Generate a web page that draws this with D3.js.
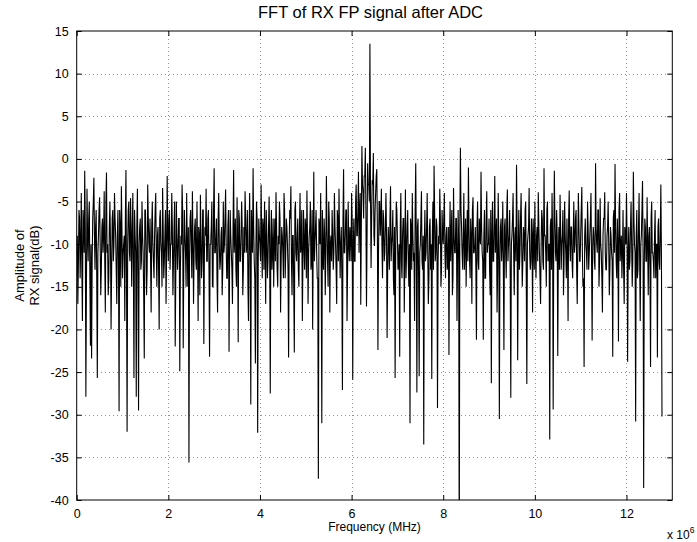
<!DOCTYPE html>
<html><head><meta charset="utf-8">
<script src="https://cdn.jsdelivr.net/npm/d3@7"></script>
<style>
html,body{margin:0;padding:0;background:#fff;}
svg{display:block;font-family:"Liberation Sans",Arial,Helvetica,sans-serif;}
</style></head>
<body><svg id="chart" width="697" height="542"></svg>
<script>
// ---- data ----
const title = "FFT of RX FP signal after ADC";
const xLabel = "Frequency (MHz)";
const yLabelLines = ["Amplitude of", "RX signal(dB)"];
const xTicks = [0, 2e6, 4e6, 6e6, 8e6, 10e6, 12e6];
const xTickLabels = ["0", "2", "4", "6", "8", "10", "12"];
const yTicks = [-40, -35, -30, -25, -20, -15, -10, -5, 0, 5, 10, 15];
const freqStepHz = 12500; // FFT bin spacing
// even-numbered bins (0, 2, 4, ...)
const amplitudeDbEven = [
-11,-17,-6,-14,-4,-19,-8,-1.4,-27.9,-3.5,-12,-5,-21.9,-23.4,-7,-2.2,
-13,-6,-25.7,-9,-4.5,-16,-8,-11,-3.8,-18,-1.6,-10,-14,-5,-20,-7,
-12,-4,-9,-17,-6,-29.6,-8,-3.2,-14,-10,-19,-1.3,-32,-6,-11,-4.6,
-15,-4,-25.7,-9,-27.9,-3.5,-29.5,-8,-13,-5,-11,-23.4,-6,-16,-3,-10,
-7,-18,-5,-12,-9,-4,-15,-8,-20,-6,-11,-3.4,-14,-9,-17,-2,
-12,-6,-10,-4,-16,-8,-22,-5,-13,-7,-24.9,-9,-3,-22.2,-6,-11,
-4,-15,-35.6,-7,-10,-3.8,-17,-8,-12,-5,-19,-9,-4.2,-14,-6,-21.7,
-8,-3.5,-12,-6,-23.2,-10,-5,-15,-1.1,-11,-7,-18,-4,-13,-9,-16,
-5,-10,-3.6,-14,-8,-22.6,-6,-11,-17,-1.3,-9,-13,-4.5,-21.5,-7,-12,
-5,-16,-8,-3.8,-11,-6,-19,-4,-28.8,-9,-1.1,-12,-24,-5,-32.1,-7,
-10,-3,-14,-8,-5,-17,-9,-12,-4.4,-27.5,-6,-11,-15,-7,-3.9,-13,
-9,-5,-18,-8,-11,-4,-14,-7,-10,-23.3,-6,-3.2,-16,-9,-22.7,-5,
-12,-7,-15,-4,-10,-19,-6,-13,-8,-3.7,-17,-9,-5,-12,-20,-1.5,
-10,-6,-14,-37.5,-8,-4,-31,-11,-7,-16,-2,-12,-5,-18,-9,-6,
-13,-4,-10,-17,-7,-3.5,-14,-8,-27.1,-1.2,-11,-6,-19,-5,-12,-9,
-4,-25.9,-7,-12,-3,-9,-1.5,-6,-17.1,1.5,-4,-2,1.3,-17.3,-0.5,-3,
13.5,-12.8,-2.5,0.7,-10.2,-4,-1.2,-22.4,-5,-9,-3.5,-14,-7,-11,-4,-21,
-8,-13,-3.2,-10,-6,-16,-25.7,-5,-9,-12,-23.2,-4,-14,-7,-18,-3.6,
-11,-6,-15,-31,-8,-4,-12,-19,-0.5,-27.4,-7,-25.5,-10,-3.8,-13,-33.5,
-6,-11,-4,-17,-8,-13,-25.8,-5,-0.8,-12,-7,-29.2,-9,-3.5,-15,-6,
-10,-4,-14,-8,-12,-23,-5,-9,-16,-3.4,-11,-7,-19,-6,-48,1.3,
-8,-13,-4,-10,-15,-6,-1,-12,-7,-17,-4.5,-11,-8,-21.2,-5,-13,
-9,-1.5,-11,-21.2,-6,-14,-3.8,-10,-7,-16,-26.3,-5,-12,-2,-9,-18,
-4,-30.5,-8,-12,-5,-22.4,-7,-14,-3.6,-10,-6,-28,-9,-4,-16,-8,
-0.7,-23.6,-6,-11,-4,-15,-8,-12,-5,-26.4,-9,-3.4,-13,-7,-18,-10,
-5,-14,-8,-3.9,-11,-17,-6,-12,-1.1,-9,-15,-5,-10,-32.9,-7,-4,
-29.4,-1.4,-11,-6,-23.1,-8,-4.2,-13,-9,-16,-5,-11,-7,-19,-3.7,-12,
-8,-14,-5,-10,-6,-17,-4,-12,-9,-3.3,-15,-24.4,-7,-11,-5,-13,
-9,-4,-21.3,-8,-12,-0.5,-10,-6,-15,-4.6,-11,-18,-7,-3.9,-13,-9,
-5,-16,-8,-11,-23.2,-6,-0.6,-12,-7,-21.4,-4,-10,-14,-6,-17,-9,
-4,-23.8,-8,-12,-5,-15,-1.5,-10,-30.8,-6,-13,-4,-19,-9,-2.6,-38.6,
-7,-12,-4.5,-16,-8,-24.4,-5,-11,-14,-6,-10,-23.3,-7,-13,-3,-30.2
];
// odd-numbered bins (1, 3, 5, ...)
const amplitudeDbOdd = [
-9,-12,-7,-10,-13,-6,-11,-8,-15,-9,-7,-14,-10,-12,-5,-9,
-8,-14,-11,-6,-10,-13,-7,-9,-12,-5,-11,-16,-8,-10,-13,-6,
-10,-7,-13,-9,-12,-6,-15,-8,-11,-9,-7,-14,-10,-5,-12,-8,
-9,-13,-6,-11,-8,-14,-10,-7,-12,-9,-16,-6,-10,-13,-7,-11,
-12,-8,-10,-14,-6,-11,-9,-13,-7,-10,-15,-8,-12,-6,-11,-9,
-7,-13,-10,-8,-12,-5,-14,-9,-11,-7,-13,-10,-6,-12,-9,-15,
-10,-8,-12,-6,-14,-9,-11,-7,-13,-10,-8,-16,-9,-12,-6,-11,
-9,-12,-7,-13,-10,-8,-15,-6,-11,-9,-14,-7,-10,-12,-8,-13,
-11,-7,-10,-14,-6,-12,-9,-13,-8,-11,-7,-15,-10,-6,-12,-9,
-8,-13,-11,-7,-10,-15,-9,-12,-6,-11,-8,-14,-10,-7,-12,-9,
-12,-9,-7,-13,-10,-6,-14,-8,-11,-9,-13,-7,-10,-12,-8,-15,
-10,-7,-12,-9,-14,-6,-11,-8,-13,-10,-7,-12,-9,-15,-6,-11,
-9,-13,-8,-11,-6,-12,-10,-7,-14,-9,-11,-8,-13,-6,-10,-12,
-8,-11,-14,-7,-10,-12,-6,-13,-9,-11,-8,-15,-7,-10,-12,-9,
-11,-8,-13,-6,-12,-9,-10,-14,-7,-11,-9,-6,-13,-10,-8,-12,
-7,-10,-12,-5,-9,-6,-11,-4,-8,-3,-7,-2,-6,-9,-3,-5,
-4,-7,-3,-9,-6,-2,-8,-11,-5,-7,-10,-6,-12,-8,-9,-13,
-10,-7,-12,-9,-14,-8,-11,-6,-13,-10,-8,-12,-9,-7,-11,-14,
-8,-12,-10,-7,-13,-9,-11,-6,-10,-8,-14,-11,-7,-12,-9,-10,
-12,-8,-11,-14,-7,-10,-9,-13,-6,-11,-8,-12,-10,-7,-13,-9,
-7,-11,-9,-13,-8,-10,-12,-6,-14,-9,-11,-7,-12,-10,-8,-6,
-11,-9,-13,-7,-10,-12,-8,-14,-9,-6,-11,-10,-13,-8,-12,-7,
-10,-8,-12,-9,-14,-7,-11,-10,-13,-6,-9,-12,-8,-11,-7,-13,
-9,-12,-7,-10,-13,-8,-11,-6,-12,-9,-14,-10,-7,-11,-9,-12,
-8,-11,-13,-7,-10,-12,-9,-6,-14,-10,-8,-11,-12,-9,-7,-13,
-11,-9,-12,-8,-14,-10,-7,-13,-9,-11,-6,-12,-10,-8,-13,-9,
-10,-7,-12,-9,-11,-13,-8,-10,-6,-12,-9,-14,-11,-7,-10,-8,
-12,-9,-11,-7,-13,-10,-8,-12,-6,-11,-14,-9,-10,-13,-8,-11,
-7,-12,-10,-9,-13,-8,-11,-6,-12,-10,-14,-9,-7,-11,-13,-8,
-10,-13,-9,-12,-7,-11,-8,-14,-10,-6,-12,-9,-11,-13,-8,-10,
-9,-11,-13,-8,-10,-12,-7,-11,-9,-14,-8,-12,-10,-6,-11,-13,
-8,-12,-10,-9,-13,-7,-11,-12,-9,-14,-10,-8,-12,-9,-11
];
const amplitudeDb = [];
amplitudeDbEven.forEach((v, i) => {
  amplitudeDb.push(v);
  if (i < amplitudeDbOdd.length) amplitudeDb.push(amplitudeDbOdd[i]);
});
const points = amplitudeDb.map((v, i) => ({ f: i * freqStepHz, v }));

// ---- layout ----
const svg = d3.select("#chart");
const L = 76.7, R = 672.3, T = 31, B = 500;
const x = d3.scaleLinear().domain([0, 13e6]).range([L, R]);
const y = d3.scaleLinear().domain([-40, 15]).range([B, T]);

svg.append("rect").attr("x", 0).attr("y", 0).attr("width", 697).attr("height", 542).attr("fill", "#fff");

// grid
const grid = svg.append("g").attr("stroke", "#7a7a7a").attr("stroke-width", 0.8)
  .attr("stroke-dasharray", "1,3").attr("shape-rendering", "crispEdges");
grid.selectAll(".gx").data(xTicks.slice(1)).join("line")
  .attr("x1", d => Math.round(x(d)) + 0.5).attr("x2", d => Math.round(x(d)) + 0.5)
  .attr("y1", T).attr("y2", B);
grid.selectAll(".gy").data(yTicks.slice(1, -1)).join("line")
  .attr("y1", d => Math.round(y(d)) + 0.5).attr("y2", d => Math.round(y(d)) + 0.5)
  .attr("x1", L).attr("x2", R);

// data line
svg.append("clipPath").attr("id", "clip").append("rect")
  .attr("x", L).attr("y", T).attr("width", R - L).attr("height", B - T);
const line = d3.line().x(d => x(d.f)).y(d => y(d.v));
svg.append("path").datum(points).attr("d", line)
  .attr("fill", "none").attr("stroke", "#000").attr("stroke-width", 1.1)
  .attr("stroke-linejoin", "miter").attr("clip-path", "url(#clip)");

// axes (MATLAB style: ticks inside, box)
const tl = 5;
const axB = svg.append("g").attr("transform", `translate(0,${B})`)
  .call(d3.axisBottom(x).tickValues(xTicks).tickFormat((d, i) => xTickLabels[i]).tickSizeInner(-tl).tickSizeOuter(0).tickPadding(9));
const axT = svg.append("g").attr("transform", `translate(0,${T})`)
  .call(d3.axisTop(x).tickValues(xTicks).tickFormat("").tickSizeInner(-tl).tickSizeOuter(0));
const axL = svg.append("g").attr("transform", `translate(${L},0)`)
  .call(d3.axisLeft(y).tickValues(yTicks).tickFormat(d => String(d)).tickSizeInner(-tl).tickSizeOuter(0).tickPadding(8));
const axR = svg.append("g").attr("transform", `translate(${R},0)`)
  .call(d3.axisRight(y).tickValues(yTicks).tickFormat("").tickSizeInner(-tl).tickSizeOuter(0));
[axB, axT, axL, axR].forEach(a => {
  a.select(".domain").remove();
  a.selectAll("line").attr("stroke", "#000");
  a.selectAll("text").attr("fill", "#000").attr("font-size", 12.5)
    .attr("font-family", "'Liberation Sans',Arial,sans-serif");
});
svg.append("rect").attr("x", L).attr("y", T).attr("width", R - L).attr("height", B - T)
  .attr("fill", "none").attr("stroke", "#000").attr("stroke-width", 1);

// titles
svg.append("text").attr("x", (L + R) / 2 - 4).attr("y", 18).attr("text-anchor", "middle")
  .attr("font-size", 16.5).attr("fill", "#000").text(title);
svg.append("text").attr("x", (L + R) / 2).attr("y", 531).attr("text-anchor", "middle")
  .attr("font-size", 12).attr("fill", "#000").text(xLabel);
const yl = svg.append("text").attr("transform", `translate(24,${(T + B) / 2}) rotate(-90)`)
  .attr("text-anchor", "middle").attr("font-size", 13).attr("fill", "#000");
yl.selectAll("tspan").data(yLabelLines).join("tspan")
  .attr("x", 0).attr("dy", (d, i) => i === 0 ? 0 : 15).text(d => d);
const ex = svg.append("text").attr("x", 667).attr("y", 539).attr("font-size", 12).attr("fill", "#000");
ex.append("tspan").text("x 10");
ex.append("tspan").attr("dy", -6).attr("font-size", 8.5).text("6");
</script></body></html>
